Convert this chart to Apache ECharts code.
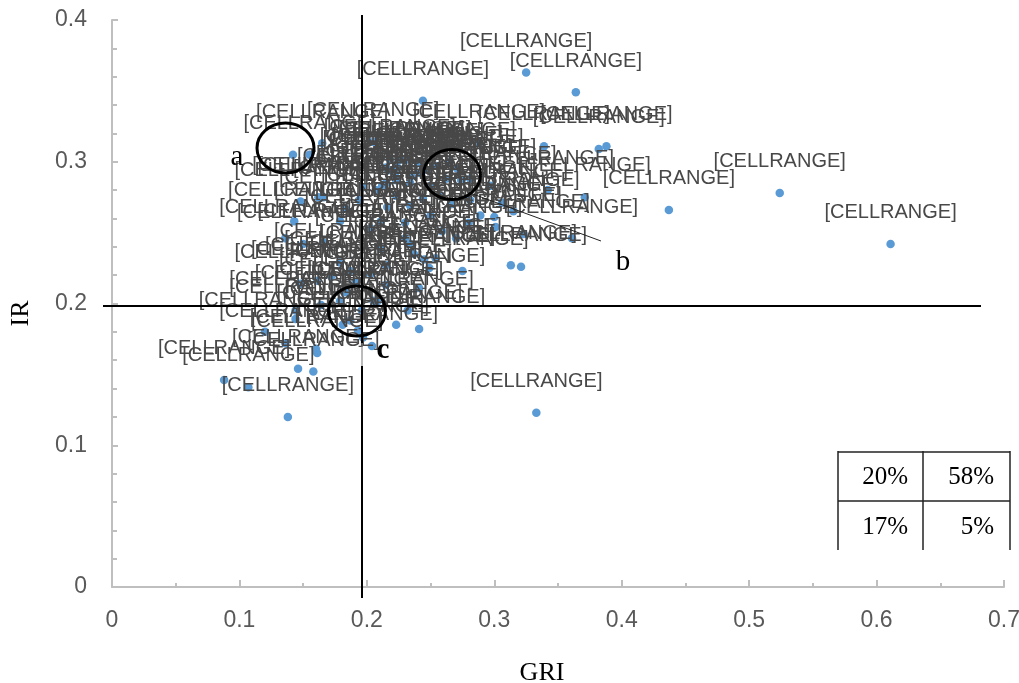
<!DOCTYPE html>
<html>
<head>
<meta charset="utf-8">
<style>html,body{margin:0;padding:0;background:#fff}#c{width:1019px;height:683px}</style>
<script src="https://cdn.jsdelivr.net/npm/echarts@6/dist/echarts.min.js"></script>
</head>
<body>
<div id="c"></div>
<script>
const griValues = [0.325,0.364,0.244,0.339,0.382,0.388,0.142,0.165,0.155,0.205,0.524,0.437,0.611,0.371,0.342,0.300,0.301,0.315,0.323,0.361,0.313,0.321,0.280,0.259,0.244,0.254,0.275,0.249,0.234,0.237,0.266,0.306,0.297,0.288,0.271,0.281,0.274,0.248,0.162,0.166,0.148,0.194,0.216,0.143,0.179,0.203,0.136,0.150,0.166,0.230,0.245,0.224,0.217,0.197,0.203,0.172,0.161,0.191,0.241,0.205,0.183,0.208,0.144,0.144,0.181,0.193,0.197,0.223,0.241,0.232,0.120,0.204,0.136,0.160,0.161,0.146,0.158,0.088,0.107,0.138,0.333,0.196,0.187,0.211,0.222,0.225,0.240,0.218,0.215,0.230,0.242,0.255,0.262,0.223,0.234,0.250,0.212,0.215,0.207,0.223,0.258,0.281,0.234,0.183,0.250,0.211,0.230,0.235,0.265,0.289,0.270,0.179,0.187,0.215,0.179,0.164,0.215,0.148];
const irValues = [0.363,0.349,0.343,0.311,0.309,0.311,0.305,0.313,0.305,0.314,0.278,0.266,0.242,0.275,0.280,0.261,0.254,0.265,0.249,0.246,0.227,0.226,0.257,0.251,0.274,0.232,0.223,0.225,0.242,0.235,0.270,0.271,0.283,0.313,0.295,0.288,0.287,0.294,0.275,0.275,0.272,0.273,0.268,0.258,0.258,0.253,0.246,0.242,0.243,0.246,0.231,0.296,0.294,0.282,0.221,0.219,0.216,0.215,0.211,0.202,0.208,0.201,0.195,0.189,0.185,0.181,0.176,0.185,0.182,0.195,0.180,0.170,0.172,0.168,0.165,0.154,0.152,0.146,0.141,0.120,0.123,0.195,0.188,0.239,0.291,0.301,0.299,0.302,0.296,0.301,0.292,0.297,0.288,0.287,0.285,0.283,0.283,0.285,0.280,0.276,0.276,0.273,0.269,0.267,0.262,0.258,0.257,0.290,0.300,0.262,0.246,0.229,0.223,0.227,0.202,0.199,0.213,0.214];
const unlabelledIndex = 6;
const pointLabel = '[CELLRANGE]';
const tableValues = ['20%','58%','17%','5%'];
const regionNames = ['a','b','c'];
const xName = 'GRI';
const yName = 'IR';

const points = griValues.map((v,i)=> i===unlabelledIndex ? {value:[v,irValues[i]],label:{show:false}} : [v,irValues[i]]);
const INK = '#000';
const line = (x1,y1,x2,y2,w,c)=>({type:'line',z:20,shape:{x1,y1,x2,y2},style:{stroke:c||INK,lineWidth:w}});
const ring = (cx,cy)=>({type:'ellipse',z:20,shape:{cx,cy,rx:28.5,ry:25},style:{fill:null,stroke:INK,lineWidth:3}});
const txt = (x,y,t,size,align,weight)=>({type:'text',z:21,x,y,style:{text:t,font:(weight||'normal')+' '+size+'px "Liberation Serif"',fill:'#000',align:align,verticalAlign:'middle'}});

const chart = echarts.init(document.getElementById('c'),null,{renderer:'canvas'});
chart.setOption({
  animation:false,
  backgroundColor:'#fff',
  grid:{left:112,top:20,width:892,height:567,containLabel:false,outerBoundsMode:'none'},
  xAxis:{
    type:'value',min:0,max:0.7,interval:0.1,
    name:xName,nameLocation:'middle',nameGap:73,
    nameTextStyle:{fontFamily:'Liberation Serif',fontSize:26,color:'#000',padding:[0,32,0,0]},
    axisLine:{show:true,onZero:false,lineStyle:{color:'#BFBFBF',width:2}},
    axisTick:{show:true,inside:true,length:7,lineStyle:{color:'#BFBFBF',width:2}},
    minorTick:{show:true,splitNumber:2,length:4,lineStyle:{color:'#BFBFBF',width:2}},
    splitLine:{show:false},minorSplitLine:{show:false},
    axisLabel:{color:'#595959',fontFamily:'Liberation Sans',fontSize:23,margin:22}
  },
  yAxis:{
    type:'value',min:0,max:0.4,interval:0.1,
    name:yName,nameLocation:'middle',nameGap:78,
    nameTextStyle:{fontFamily:'Liberation Serif',fontSize:26,color:'#000',padding:[0,20,0,0]},
    axisLine:{show:true,onZero:false,lineStyle:{color:'#BFBFBF',width:2}},
    axisTick:{show:true,inside:true,length:6,lineStyle:{color:'#BFBFBF',width:2}},
    minorTick:{show:true,splitNumber:5,length:5,lineStyle:{color:'#BFBFBF',width:2}},
    splitLine:{show:false},minorSplitLine:{show:false},
    axisLabel:{color:'#595959',fontFamily:'Liberation Sans',fontSize:23,margin:25,padding:[2,0,0,0]}
  },
  series:[{
    type:'scatter',data:points,symbol:'circle',symbolSize:8.5,
    itemStyle:{color:'#5B9BD5',opacity:1},
    label:{show:true,position:'top',distance:17,formatter:pointLabel,color:'#484848',fontFamily:'Liberation Sans',fontSize:20}
  }],
  graphic:{elements:[
    line(103,306,981,306,2),
    line(362,15,362,343,2),
    line(362,343,362,366,1,'#777'),
    line(362,366,362,598,2),
    line(470,193,601,241,1,'#222'),
    ring(285.5,148),ring(452,174.5),ring(357,311),
    txt(237,157,regionNames[0],29,'center'),
    txt(623,262,regionNames[1],29,'center'),
    txt(383,351,regionNames[2],29,'center','bold'),
    line(838,452,1010,452,1.5,'#222'),
    line(838,501,1010,501,1.5,'#222'),
    line(838,451,838,550,1.5,'#222'),
    line(923,451,923,550,1.5,'#222'),
    line(1010,451,1010,550,1.5,'#222'),
    txt(908,477,tableValues[0],25,'right'),
    txt(994,477,tableValues[1],25,'right'),
    txt(908,527,tableValues[2],25,'right'),
    txt(994,527,tableValues[3],25,'right')
  ]}
});
</script>
</body>
</html>
